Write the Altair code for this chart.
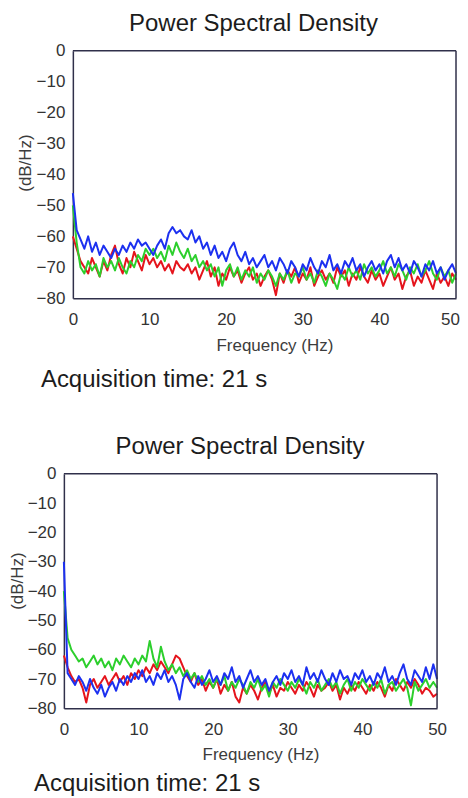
import altair as alt
import pandas as pd

FONT = "Liberation Sans"
FRAME = "#30304a"

# frequency bins (Hz)
FREQ = [i * 0.5 for i in range(101)]
X_TICKS = [0, 10, 20, 30, 40, 50]
Y_TICKS = [0, -10, -20, -30, -40, -50, -60, -70, -80]
X_DOMAIN = [0, 50]
Y_DOMAIN = [-80, 0]

TITLE = "Power Spectral Density"
X_TITLE = "Frequency (Hz)"
Y_TITLE = "(dB/Hz)"
ACQ = "Acquisition time: 21 s"

COLORS = {"red": "#e5141c", "green": "#2ccf2c", "blue": "#1c30f0"}

# ---------- top panel (dB/Hz) ----------
TOP_RED = [
    -60, -64, -68, -70, -72, -67, -70, -73, -68, -71,
    -66, -63, -69, -72, -67, -70, -65, -68, -71, -66,
    -69, -67, -70, -68, -71, -69, -72, -68, -70, -71,
    -69, -72, -70, -74, -71, -68, -73, -70, -76, -72,
    -74, -70, -73, -71, -75, -72, -70, -74, -72, -76,
    -73, -71, -74, -79, -72, -75, -71, -73, -70, -75,
    -72, -74, -70, -76, -73, -71, -74, -72, -75, -70,
    -73, -71, -76, -72, -74, -70, -73, -75, -71, -74,
    -72, -76, -73, -70, -74, -72, -77, -73, -71, -76,
    -73, -75, -71, -74, -77, -72, -75, -73, -76, -72,
    -74,
]
TOP_GREEN = [
    -50, -62, -70, -72, -68, -71, -69, -73, -67, -70,
    -68, -71, -67, -70, -72, -68, -70, -66, -68, -64,
    -66, -64, -67, -65, -68, -63, -66, -62, -65, -67,
    -64, -68, -66, -70, -68, -71, -69, -73, -70, -76,
    -71, -69, -73, -70, -74, -71, -73, -70, -75, -72,
    -74, -71, -73, -76, -72, -74, -71, -75, -72, -73,
    -70, -74, -72, -75, -71, -73, -76, -72, -74, -77,
    -72, -74, -70, -73, -71, -74, -69, -72, -70, -73,
    -71, -68, -72, -70, -73, -69, -71, -74, -70, -72,
    -69, -73, -71, -68, -72, -74, -70, -73, -71, -75,
    -72,
]
TOP_BLUE = [
    -46, -58, -61, -64, -60, -65, -62, -66, -63, -65,
    -67, -64, -66, -63, -65, -62, -64, -61, -63, -62,
    -64, -66, -63, -61, -64, -59, -57, -59, -58, -60,
    -61, -58, -62, -60, -64, -62, -66, -63, -67, -65,
    -68, -64, -62, -66, -68, -65, -69, -67, -70, -68,
    -66, -70, -68, -71, -67, -69, -72, -68, -70, -73,
    -69, -71, -67, -70, -72, -68, -70, -66, -71, -69,
    -72, -68, -70, -67, -71, -69, -73, -70, -68, -71,
    -69, -72, -68, -66, -70, -67, -71, -69, -72, -68,
    -70, -73, -69, -71, -68, -72, -70, -74, -71, -69,
    -72,
]

# ---------- bottom panel (dB/Hz) ----------
BOT_GREEN = [
    -40, -56, -60, -62, -64, -63, -66, -64, -62, -65,
    -63, -66, -64, -67, -63, -65, -62, -64, -66, -63,
    -65, -62, -64, -57, -63, -66, -59, -64, -67, -65,
    -68, -66, -69, -67, -70, -68, -71, -69, -72, -70,
    -73, -70, -72, -69, -74, -71, -73, -70, -72, -75,
    -71, -73, -70, -74, -72, -76, -71, -73, -70, -72,
    -74, -71, -73, -70, -72, -75, -71, -73, -70, -74,
    -72, -70, -73, -71, -75, -72, -70, -74, -71, -73,
    -70, -72, -74, -71, -73, -70, -75, -72, -71, -74,
    -72, -70, -73, -79, -71, -74, -72, -70, -73, -71,
    -73,
]
BOT_RED = [
    -62, -66, -69, -71, -70, -73, -78, -72, -70, -73,
    -71, -69, -72, -70, -68, -71, -69, -72, -68, -70,
    -67, -69, -66, -68, -65, -67, -64, -66, -68, -65,
    -62, -63, -66, -69, -71, -68, -72, -70, -74, -71,
    -73, -70, -75, -72, -74, -71, -76, -78, -73, -75,
    -72, -74, -77, -73, -71, -75, -72, -76, -73, -74,
    -71, -73, -75, -72, -74, -71, -73, -76, -72, -74,
    -73, -71, -74, -72, -77, -73, -75, -72, -74, -71,
    -73, -75, -72, -74, -71, -73, -76, -72, -74, -70,
    -72, -74, -71, -73, -70, -72, -75, -73, -74, -76,
    -75,
]
BOT_BLUE = [
    -30, -68, -70, -72, -69, -71, -74, -70, -73, -75,
    -72, -76, -73, -71, -74, -70, -72, -69, -71, -68,
    -70, -67, -71, -69, -72, -68, -70, -67, -71, -69,
    -72, -77, -70, -68, -71, -73, -69, -72, -70, -67,
    -71, -69, -72, -68, -70, -66, -71, -69, -73, -70,
    -67, -71, -69, -72, -70, -74, -71, -69, -72, -68,
    -70, -67, -71, -69, -72, -66, -70, -68, -71, -67,
    -70, -72, -68, -71, -67, -70, -69, -72, -68, -70,
    -67, -71, -69, -72, -68, -70, -66, -71, -69, -72,
    -68, -65, -70, -72, -67, -69, -71, -66, -70, -65,
    -70,
]


def panel(series, shift, w, h, x_title_x, x_title_y, y_title_y, y_title_pad,
          acq_x, acq_y, title_dx, last_label_dx):
    """shift: how far (px) the plot frame starts left of the view origin."""
    x_scale = alt.Scale(domain=X_DOMAIN, nice=False, zero=False, range=[-shift, w])
    y_scale = alt.Scale(domain=Y_DOMAIN, nice=False)
    common = dict(ticks=False, grid=False, domainColor=FRAME, domainWidth=1.5)
    x_bottom = alt.Axis(
        orient="bottom", values=X_TICKS, labelFlush=False,
        labelOffset={"condition": {"test": f"datum.value === {X_DOMAIN[1]}",
                                   "value": last_label_dx}, "value": 0},
        labelFontSize=17, labelColor="#333333", labelFont=FONT, labelPadding=13,
        title=X_TITLE, titleFontSize=17, titleFontWeight="normal", titleColor="#3c3c3c",
        titleFont=FONT, titleX=x_title_x, titleY=x_title_y, titleBaseline="alphabetic",
        **common,
    )
    y_left = alt.Axis(
        orient="left", values=Y_TICKS, labelFlush=False, offset=shift,
        labelFontSize=17, labelColor="#333333", labelFont=FONT, labelPadding=8,
        title=Y_TITLE, titleFontSize=17, titleFontWeight="normal", titleColor="#3c3c3c",
        titleFont=FONT, titlePadding=y_title_pad, titleY=y_title_y,
        **common,
    )

    layers = []
    for name, vals in series:
        df = pd.DataFrame({"f": FREQ, "v": vals})
        layers.append(
            alt.Chart(df).mark_line(color=COLORS[name], strokeWidth=2, strokeJoin="round").encode(
                x=alt.X("f:Q", scale=x_scale, axis=x_bottom),
                y=alt.Y("v:Q", scale=y_scale, axis=y_left),
            )
        )
    # top and right edges of the plot frame, at the ends of the axis domains
    edges = pd.DataFrame({
        "f0": [X_DOMAIN[0], X_DOMAIN[1]], "f1": [X_DOMAIN[1], X_DOMAIN[1]],
        "v0": [Y_DOMAIN[1], Y_DOMAIN[0]], "v1": [Y_DOMAIN[1], Y_DOMAIN[1]],
    })
    frame = alt.Chart(edges).mark_rule(color=FRAME, strokeWidth=1.5).encode(
        x=alt.X("f0:Q", scale=x_scale, axis=x_bottom), x2="f1:Q",
        y=alt.Y("v0:Q", scale=y_scale, axis=y_left), y2="v1:Q",
    )
    layers.append(frame)
    acq = alt.Chart(pd.DataFrame({"t": [ACQ]})).mark_text(
        align="left", baseline="alphabetic", fontSize=24, font=FONT, color="#1c1c1c"
    ).encode(x=alt.value(acq_x), y=alt.value(acq_y), text="t:N")
    layers.append(acq)
    return alt.layer(*layers).properties(
        width=w, height=h,
        title=alt.TitleParams(TITLE, fontSize=24, fontWeight="normal", font=FONT,
                              color="#1c1c1c", anchor="middle", frame="group",
                              dx=title_dx, offset=6),
    )


top = panel([("red", TOP_RED), ("green", TOP_GREEN), ("blue", TOP_BLUE)],
            0, 384, 248, 202, 52, 112, 2, -32, 337, -11, -6)
bottom = panel([("red", BOT_RED), ("green", BOT_GREEN), ("blue", BOT_BLUE)],
               9, 365, 235, 188, 51, 107, 1, -39, 318, -15, 0)

chart = alt.vconcat(top, bottom, spacing=43).properties(
    padding={"left": 0, "top": 3, "right": 0, "bottom": 0}
).configure(background="white").configure_view(strokeWidth=0)

chart.save("out.html", embed_options={"renderer": "svg", "actions": False})
